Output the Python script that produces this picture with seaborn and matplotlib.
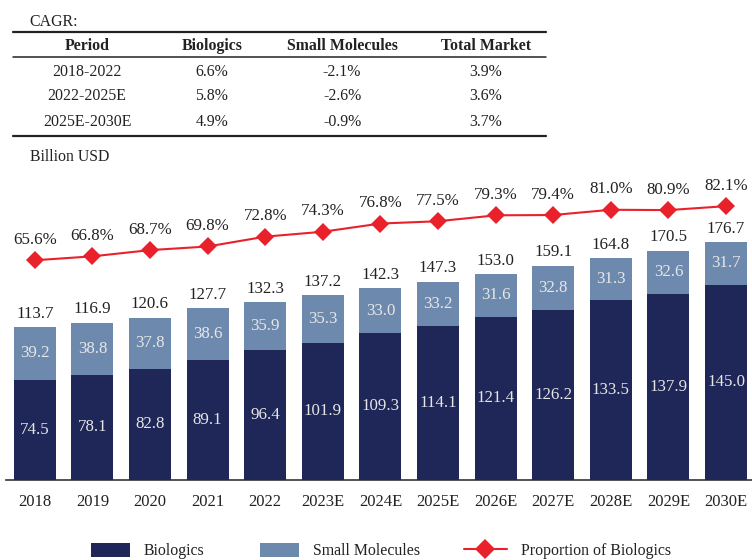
import numpy as np
import pandas as pd
import matplotlib
matplotlib.use('Agg')
import matplotlib.pyplot as plt
from matplotlib.lines import Line2D
from matplotlib.patches import Patch
import seaborn as sns

sns.set_theme(style='white')
plt.rcParams['font.family'] = ['Liberation Serif', 'DejaVu Serif']

# chart data
years = ['2018', '2019', '2020', '2021', '2022', '2023E', '2024E', '2025E',
         '2026E', '2027E', '2028E', '2029E', '2030E']
biologics = [74.5, 78.1, 82.8, 89.1, 96.4, 101.9, 109.3, 114.1, 121.4, 126.2, 133.5, 137.9, 145.0]
small_molecules = [39.2, 38.8, 37.8, 38.6, 35.9, 35.3, 33.0, 33.2, 31.6, 32.8, 31.3, 32.6, 31.7]
totals = [113.7, 116.9, 120.6, 127.7, 132.3, 137.2, 142.3, 147.3, 153.0, 159.1, 164.8, 170.5, 176.7]
proportion = [65.6, 66.8, 68.7, 69.8, 72.8, 74.3, 76.8, 77.5, 79.3, 79.4, 81.0, 80.9, 82.1]

# CAGR table
cagr_cols = ['Period', 'Biologics', 'Small Molecules', 'Total Market']
cagr_period = ['2018-2022', '2022-2025E', '2025E-2030E']
cagr_bio = ['6.6%', '5.8%', '4.9%']
cagr_small = ['-2.1%', '-2.6%', '-0.9%']
cagr_total = ['3.9%', '3.6%', '3.7%']

DARK = '#1f2758'
LIGHT = '#6d8aae'
RED = '#e8212b'
TXT = '#222222'

df = pd.DataFrame({'year': years, 'bio': biologics, 'small': small_molecules,
                   'total': totals, 'prop': proportion})

W, H = 752, 560
fig = plt.figure(figsize=(W / 100, H / 100), dpi=100)

def fx(px):
    return px / W

def fy(py):
    return 1 - py / H

ax = fig.add_axes([fx(6), fy(480), 1 - fx(6), fy(175) - fy(480)])

# stacked look: total bar in light, biologics drawn over it in dark
sns.barplot(data=df, x='year', y='total', color=LIGHT, width=0.73,
            saturation=1, linewidth=0, ax=ax, zorder=2)
sns.barplot(data=df, x='year', y='bio', color=DARK, width=0.73,
            saturation=1, linewidth=0, ax=ax, zorder=3)

ax.set_ylim(0, 226.6)
ax.set_xlim(-0.5, 12.45)
for s in ['top', 'right', 'left']:
    ax.spines[s].set_visible(False)
ax.spines['bottom'].set_color('#333333')
ax.spines['bottom'].set_linewidth(1.2)
ax.set_yticks([])
ax.set_xlabel('')
ax.set_ylabel('')
ax.tick_params(axis='x', length=0, pad=10, labelsize=12, labelcolor=TXT)

for i, row in df.iterrows():
    ax.text(i, row['bio'] / 2, f"{row['bio']:.1f}", ha='center', va='center',
            color='#e6e6e6', fontsize=12.2, zorder=5)
    ax.text(i, row['bio'] + row['small'] / 2, f"{row['small']:.1f}", ha='center',
            va='center', color='#e6e6e6', fontsize=12.2, zorder=5)
    ax.text(i, row['total'] + 4, f"{row['total']:.1f}", ha='center', va='bottom',
            color=TXT, fontsize=12.2, zorder=5)

ax2 = ax.twinx()
ax2.set_ylim(-1.4, 91.6)
sns.lineplot(x=np.arange(len(years)), y=df['prop'], ax=ax2, color=RED, lw=1.5,
             marker='D', markersize=9, markeredgewidth=0, zorder=6)
for i, v in enumerate(proportion):
    ax2.text(i, v + 3.8, f"{v:.1f}%", ha='center', va='bottom', color=TXT,
             fontsize=12.2)
ax2.set_yticks([])
ax2.set_ylabel('')
for s in ax2.spines.values():
    s.set_visible(False)
ax2.set_xlim(-0.5, 12.45)

# CAGR table at top
TFS = 11.4
fig.text(fx(29), fy(22), 'CAGR:', ha='left', va='center', fontsize=TFS, color=TXT)
col_x = [87, 212, 342, 486]
for cx, c in zip(col_x, cagr_cols):
    fig.text(fx(cx), fy(46), c, ha='center', va='center', fontsize=TFS,
             fontweight='bold', color=TXT)
row_y = [72, 96, 122]
for j, ry in enumerate(row_y):
    vals = [cagr_period[j], cagr_bio[j], cagr_small[j], cagr_total[j]]
    for cx, v in zip(col_x, vals):
        fig.text(fx(cx), fy(ry), v, ha='center', va='center', fontsize=TFS, color=TXT)
for ly, lw in [(32, 1.6), (57, 1.1), (136, 1.6)]:
    fig.add_artist(Line2D([fx(13), fx(546)], [fy(ly), fy(ly)], color='#222222', lw=lw))
fig.text(fx(30), fy(157), 'Billion USD', ha='left', va='center', fontsize=TFS, color=TXT)

# legend: three pieces placed side by side
LFS = 11.4
leg_items = [
    (Patch(facecolor=DARK, edgecolor='none', label='Biologics'), 91, 2.45),
    (Patch(facecolor=LIGHT, edgecolor='none', label='Small Molecules'), 260, 2.45),
    (Line2D([0], [0], color=RED, lw=1.5, marker='D', markersize=10,
            markeredgewidth=0, label='Proportion of Biologics'), 464, 2.7),
]
for h, x0, hl in leg_items:
    fig.legend(handles=[h], loc='center left', bbox_to_anchor=(fx(x0), fy(551)),
               frameon=False, fontsize=LFS, handlelength=hl, handleheight=0.95,
               handletextpad=0.9, borderpad=0, borderaxespad=0, labelcolor=TXT)

fig.savefig('out.png', dpi=100)
